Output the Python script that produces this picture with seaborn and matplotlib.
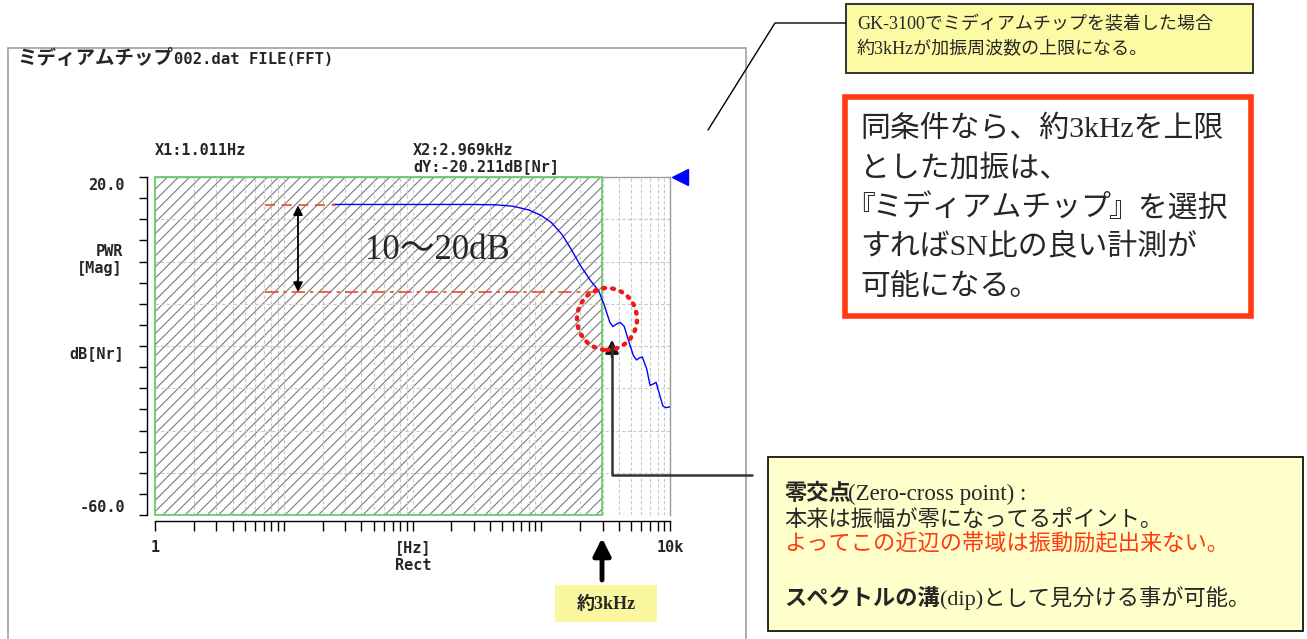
import numpy as np
import pandas as pd
import matplotlib
matplotlib.use("Agg")
import matplotlib.pyplot as plt
import matplotlib.patches as mpatches
from matplotlib.lines import Line2D
from matplotlib.ticker import FixedLocator, LogLocator, NullFormatter
import seaborn as sns

# ---------------- data ----------------
freq_hz = [24, 60, 150, 300, 450, 600, 800, 1000, 1200, 1450, 1700, 2000, 2400,
           2800, 3100, 3400, 3600, 3850, 4100, 4400, 4750, 5200, 5500, 5800,
           6100, 6600, 7000, 7400, 7800, 8300, 8800, 9300, 10000]
level_db = [13.5, 13.5, 13.5, 13.5, 13.4, 13.1, 12.2, 10.9, 9.2, 6.4, 3.0, -0.8, -4.4,
            -7.0, -10.5, -14.3, -15.4, -14.8, -14.4, -15.3, -18.6, -22.3, -23.3, -22.8,
            -22.6, -25.5, -29.3, -29.0, -28.6, -31.5, -34.2, -34.6, -34.4]

x_min_hz, x_max_hz = 1, 10000
y_min_db, y_max_db = -60, 20
cursor_x1_hz = 1.011
cursor_x2_hz = 2969
ref_upper_db = 13.3
ref_lower_db = -7.2
ref_start_hz = 7.15
ref_upper_end_hz = 25
band_arrow_hz = 12.9
band_label = "10〜20dB"
band_label_pos = (155, 2.7)

title_jp = "ミディアムチップ"
title_rest = "002.dat FILE(FFT)"
x1_label = "X1:1.011Hz"
x2_label = "X2:2.969kHz"
dy_label = "dY:-20.211dB[Nr]"
y_tick_texts = ["20.0", "PWR", "[Mag]", "dB[Nr]", "-60.0"]
x_tick_texts = ["1", "[Hz]", "Rect", "10k"]

note_top = ["GK-3100でミディアムチップを装着した場合", "約3kHzが加振周波数の上限になる。"]
note_red = ["同条件なら、約3kHzを上限", "とした加振は、", "『ミディアムチップ』を選択",
            "すればSN比の良い計測が", "可能になる。"]
note_khz = "約3kHz"

# ---------------- style ----------------
sns.set_style("white")
plt.rcParams["font.family"] = ["DejaVu Sans", "Noto Sans CJK JP"]
plt.rcParams["hatch.linewidth"] = 0.8

W, H = 1307, 639
fig = plt.figure(figsize=(W / 100, H / 100), dpi=100)
fig.patch.set_facecolor("white")


def P(x, y):
    return (x / W, 1 - y / H)


MONO = ["DejaVu Sans Mono", "Noto Sans CJK JP"]
SERIF_JP = ["Liberation Serif", "Noto Sans CJK JP"]
JP = ["Noto Sans CJK JP", "DejaVu Sans"]

# plot area: x 155..670, y 177..515
ax = fig.add_axes([155 / W, 1 - 515 / H, 515 / W, 338 / H])
ax.set_facecolor("white")

df = pd.DataFrame({"freq": freq_hz, "level": level_db})
sns.lineplot(data=df, x="freq", y="level", ax=ax, color="#0000FF", lw=1.0, zorder=4)
ax.set_xscale("log")
ax.set_xlim(x_min_hz, x_max_hz)
ax.set_ylim(y_min_db, y_max_db)
ax.set_xlabel("")
ax.set_ylabel("")

ax.xaxis.set_major_locator(LogLocator(base=10, numticks=10))
ax.xaxis.set_minor_locator(LogLocator(base=10, subs=np.arange(2, 10), numticks=100))
ax.xaxis.set_minor_formatter(NullFormatter())
ax.yaxis.set_major_locator(FixedLocator(np.arange(-60, 21, 10)))
ax.yaxis.set_minor_locator(FixedLocator(np.arange(-55, 20, 10)))
ax.tick_params(axis="both", which="both", labelbottom=False, labelleft=False)
ax.tick_params(axis="x", which="both", direction="out", length=7, width=1, color="black",
               bottom=True)
ax.tick_params(axis="y", which="both", direction="out", length=6, width=1, color="black",
               left=True)

ax.grid(True, axis="x", which="both", color="#C8C8C8", lw=0.8, ls=(0, (3, 2)))
ax.grid(True, axis="y", which="major", color="#C8C8C8", lw=0.8, ls=(0, (3, 2)))
ax.set_axisbelow(True)

for s in ["top", "right"]:
    ax.spines[s].set_color("#9A9A9A")
    ax.spines[s].set_linewidth(1.0)
for s in ["left", "bottom"]:
    ax.spines[s].set_color("black")
    ax.spines[s].set_linewidth(1.0)
ax.spines["left"].set_position(("outward", 6))
ax.spines["bottom"].set_position(("outward", 4))

# hatched (non-excitable) region
hatch_rect = mpatches.Rectangle((x_min_hz, y_min_db), cursor_x2_hz - x_min_hz, y_max_db - y_min_db,
                                facecolor="white", edgecolor="#7A7A7A", linewidth=0,
                                hatch="///", zorder=0.3)
ax.add_patch(hatch_rect)
edge_rect = mpatches.Rectangle((x_min_hz, y_min_db), cursor_x2_hz - x_min_hz, y_max_db - y_min_db,
                               facecolor="none", edgecolor="#6CCB6C", linewidth=1.3, zorder=3)
edge_rect.set_clip_on(False)
ax.add_patch(edge_rect)

# reference lines
ax.plot([ref_start_hz, ref_upper_end_hz], [ref_upper_db, ref_upper_db], color="#F04A1E",
        lw=1.2, ls=(0, (6, 4)), zorder=5)
ax.plot([ref_start_hz, cursor_x2_hz], [ref_lower_db, ref_lower_db], color="#F04A1E",
        lw=1.2, ls=(0, (8, 3, 2, 3)), zorder=5)
ax.annotate("", xy=(band_arrow_hz, ref_upper_db), xytext=(band_arrow_hz, ref_lower_db),
            arrowprops=dict(arrowstyle="<|-|>", color="black", lw=1.3, mutation_scale=14,
                            shrinkA=0, shrinkB=0), zorder=6)
ax.text(band_label_pos[0], band_label_pos[1], band_label, fontsize=25, family=SERIF_JP,
        ha="center", va="center", zorder=6)

# cursor marker
ax.plot([1.02], [1.0], marker="<", color="#0000FF", ms=11, transform=ax.transAxes,
        clip_on=False, zorder=7)

# ---------------- panel & texts ----------------
panel = mpatches.Rectangle(P(8, 660), 738 / W, (660 - 48) / H, transform=fig.transFigure,
                           facecolor="none", edgecolor="#A0A0A0", lw=1.2, zorder=0)
fig.patches.append(panel)

fig.text(*P(17, 58), title_jp, fontsize=14, family=JP, fontweight="bold", va="center", ha="left")
fig.text(*P(174, 59), title_rest, fontsize=11.2, family=MONO, fontweight="bold",
         va="center", ha="left")
fig.text(*P(155, 150), x1_label, fontsize=11, family=MONO, fontweight="bold", va="center", ha="left")
fig.text(*P(413, 150), x2_label, fontsize=11, family=MONO, fontweight="bold", va="center", ha="left")
fig.text(*P(413, 167), dy_label, fontsize=11, family=MONO, fontweight="bold", va="center", ha="left")

ytl_pos = [(125, 186), (123, 252), (123, 268), (124, 354), (125, 508)]
for t, (x, y) in zip(y_tick_texts, ytl_pos):
    fig.text(*P(x, y), t, fontsize=11, family=MONO, fontweight="bold", va="center", ha="right")
xtl_pos = [(155, 548), (413, 548), (413, 566), (670, 548)]
for t, (x, y) in zip(x_tick_texts, xtl_pos):
    fig.text(*P(x, y), t, fontsize=11, family=MONO, fontweight="bold", va="center", ha="center")

# red dotted circle around the dip
circ = mpatches.Ellipse(P(607, 319), 60 / W, 62 / H, transform=fig.transFigure,
                        facecolor="none", edgecolor="#F01818", lw=3.2,
                        linestyle=(0, (0.4, 1.6)), capstyle="round", zorder=8)
fig.patches.append(circ)

# zero-cross pointer
fig.add_artist(Line2D([612 / W, 612 / W, 752 / W], [1 - 345 / H, 1 - 475 / H, 1 - 475 / H],
                      color="#333333", lw=1.8))
fig.add_artist(mpatches.FancyArrowPatch(P(612, 360), P(612, 337), transform=fig.transFigure,
                                        arrowstyle="-|>", mutation_scale=20, color="#111111",
                                        lw=1.8))

# big arrow to 約3kHz
fig.add_artist(mpatches.FancyArrowPatch(P(602, 580), P(602, 538), transform=fig.transFigure,
                                        arrowstyle="-|>", mutation_scale=26, color="black",
                                        lw=3.5, shrinkA=0, shrinkB=0))
fig.patches.append(mpatches.Rectangle(P(555, 622), 102 / W, 37 / H, transform=fig.transFigure,
                                      facecolor="#FBF79E", edgecolor="none"))
fig.text(*P(606, 604), note_khz, fontsize=13, family=SERIF_JP, fontweight="bold",
         ha="center", va="center")

# top note box with leader line
fig.add_artist(Line2D([846 / W, 775 / W, 708 / W], [1 - 23 / H, 1 - 23 / H, 1 - 130 / H],
                      color="black", lw=1.0))
fig.patches.append(mpatches.Rectangle(P(846, 73), 407 / W, 69 / H, transform=fig.transFigure,
                                      facecolor="#FCFAA2", edgecolor="#333333", lw=1.4))
fig.text(*P(857, 24), note_top[0], fontsize=13, family=SERIF_JP, ha="left", va="center")
fig.text(*P(857, 49), note_top[1], fontsize=13, family=SERIF_JP, ha="left", va="center")

# red bordered box
fig.patches.append(mpatches.Rectangle(P(845, 316), 406 / W, 219 / H, transform=fig.transFigure,
                                      facecolor="white", edgecolor="#FF3A10", lw=4.0))
fsr = 21.5
for i, line in enumerate(note_red):
    y = 129 + i * 39.5
    if line.startswith("『"):
        inner, rest = line[1:].split("』")
        fig.text(*P(845, y), "『", fontsize=fsr, family=JP, ha="left", va="center")
        fig.text(*P(872, y), inner, fontsize=fsr, family=JP, ha="left", va="center")
        fig.text(*P(1109, y), "』" + rest, fontsize=fsr, family=JP, ha="left", va="center")
    else:
        fig.text(*P(860, y), line, fontsize=fsr, family=SERIF_JP, ha="left", va="center")

# bottom explanation box
fs = 16
fig.patches.append(mpatches.Rectangle(P(768, 631), 535 / W, 174 / H, transform=fig.transFigure,
                                      facecolor="#FFFFCC", edgecolor="black", lw=1.2))
fig.text(*P(784, 494), "零交点", fontsize=fs, family=JP, fontweight="bold", ha="left", va="center")
fig.text(*P(848, 494), "(Zero-cross point) :", fontsize=16.5, family=SERIF_JP, ha="left",
         va="center")
fig.text(*P(784, 519), "本来は振幅が零になってるポイント。", fontsize=fs, family=JP,
         ha="left", va="center")
fig.text(*P(784, 544), "よってこの近辺の帯域は振動励起出来ない。", fontsize=fs, family=JP,
         color="#FF3A10", ha="left", va="center")
fig.text(*P(784, 598), "スペクトルの溝", fontsize=fs, family=JP, fontweight="bold",
         ha="left", va="center")
fig.text(*P(940, 598), "(dip)として見分ける事が可能。", fontsize=fs, family=SERIF_JP,
         ha="left", va="center")

fig.savefig("out.png", dpi=100, facecolor="white")
